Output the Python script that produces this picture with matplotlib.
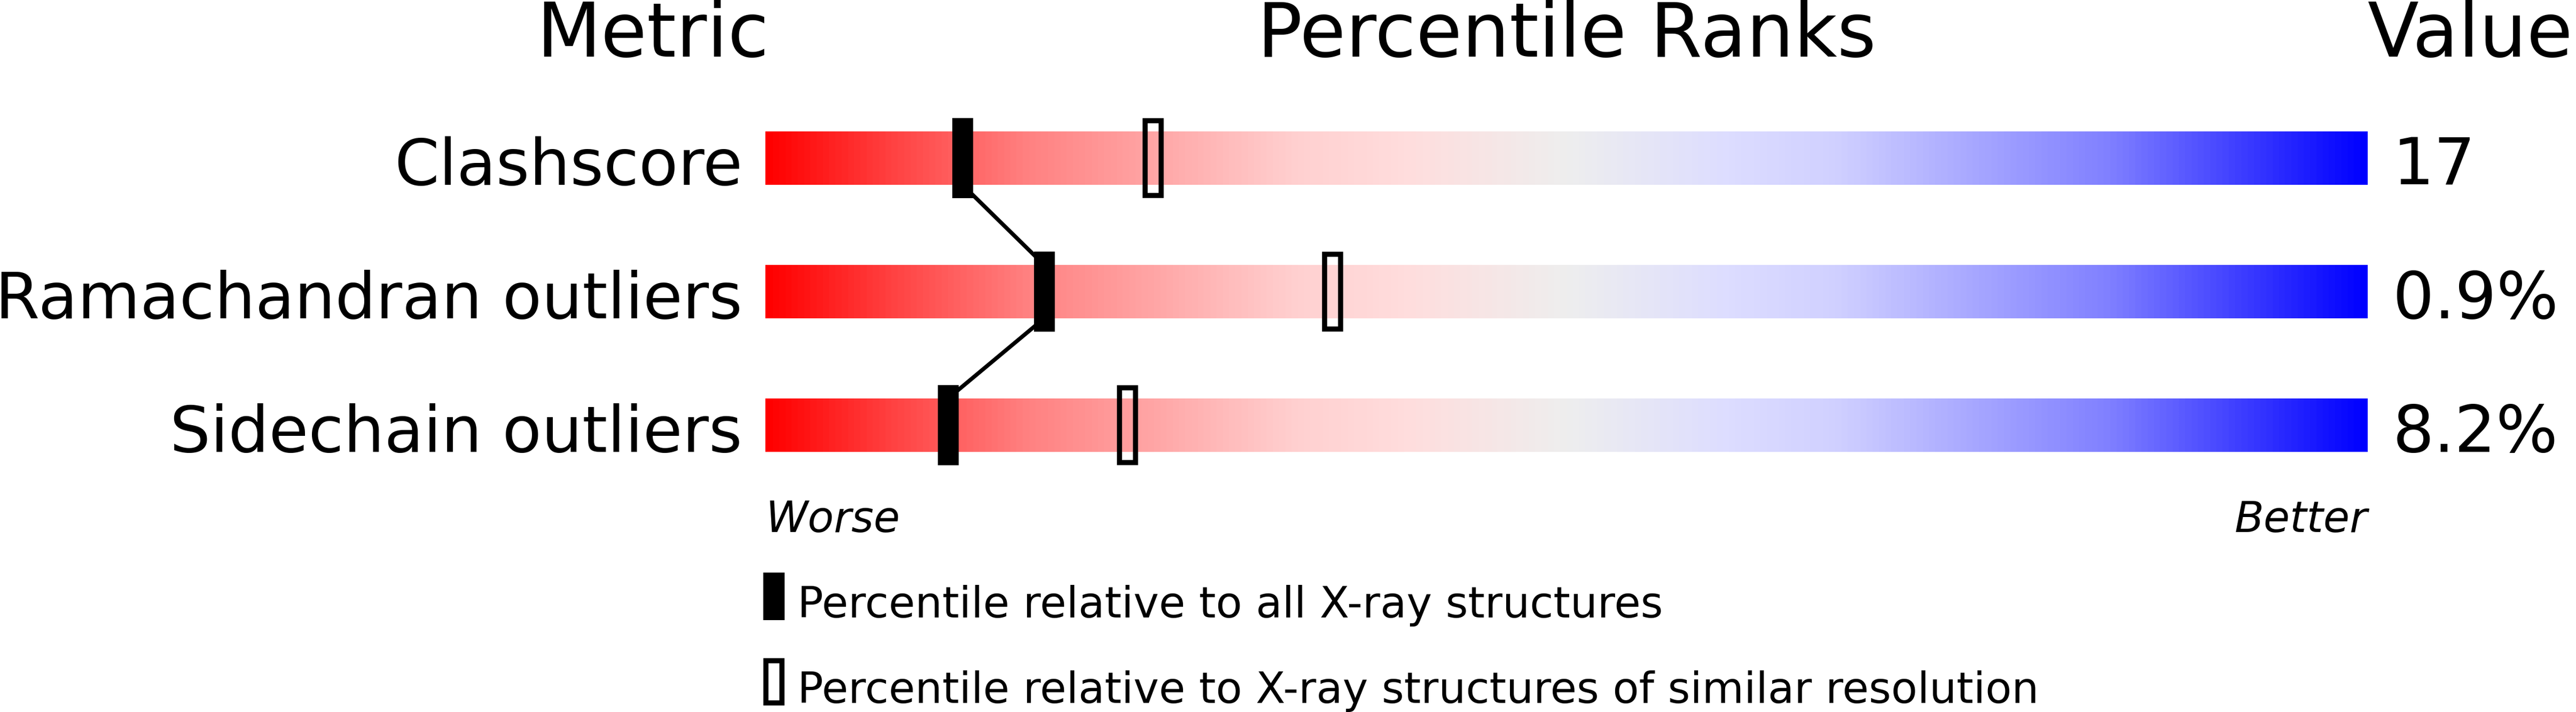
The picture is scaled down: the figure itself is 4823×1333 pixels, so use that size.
import matplotlib
matplotlib.use("Agg")
import matplotlib.pyplot as plt
import numpy as np
from matplotlib.colors import LinearSegmentedColormap
from matplotlib.patches import Rectangle

# data
metrics = ["Clashscore", "Ramachandran outliers", "Sidechain outliers"]
values = ["17", "0.9%", "8.2%"]
pct_all = [12.3, 17.4, 11.4]        # percentile vs all X-ray structures
pct_similar = [24.2, 35.4, 22.6]    # percentile vs similar resolution
legend_labels = ["Percentile relative to all X-ray structures",
                 "Percentile relative to X-ray structures of similar resolution"]

# layout in pixels (figure is drawn 1:1 in pixel units)
W, H = 4823, 1333
BAR_X0, BAR_W = 1433, 3000
ROW_Y = [296, 546, 796]
BAR_H = 100
MARK_W, MARK_H = 39, 150
EDGE = 9.5
PT = 0.72  # points per pixel at dpi=100

# red -> grey -> blue gradient of the slider
grad = LinearSegmentedColormap.from_list("slider", [
    (0.00, "#FF0000"), (0.08, "#FF4444"), (0.16, "#FF8080"),
    (0.25, "#FFAAAA"), (0.33, "#FFD0D0"), (0.40, "#FFDDDD"),
    (0.50, "#EEEEEE"), (0.60, "#DDDDFF"), (0.67, "#D0D0FF"),
    (0.75, "#AAAAFF"), (0.84, "#8080FF"), (1.00, "#0000FF")])


def to_x(p):
    return BAR_X0 + p / 100.0 * BAR_W


fig = plt.figure(figsize=(W / 100, H / 100), dpi=100)
ax = fig.add_axes([0, 0, 1, 1])

ramp = np.linspace(0, 1, 600).reshape(1, -1)
for i, yc in enumerate(ROW_Y):
    ax.imshow(ramp, cmap=grad, aspect="auto", interpolation="bilinear",
              extent=(BAR_X0, BAR_X0 + BAR_W, yc + BAR_H / 2, yc - BAR_H / 2), zorder=1)

    xa = to_x(pct_all[i])
    ax.add_patch(Rectangle((xa - MARK_W / 2, yc - MARK_H / 2), MARK_W, MARK_H,
                           facecolor="black", edgecolor="none", zorder=4))
    xs = to_x(pct_similar[i])
    ax.add_patch(Rectangle((xs - (MARK_W - EDGE) / 2, yc - (MARK_H - EDGE) / 2),
                           MARK_W - EDGE, MARK_H - EDGE, facecolor="none",
                           edgecolor="black", lw=EDGE * PT, zorder=4))

    ax.text(1390, yc + BAR_H / 2, metrics[i], ha="right", va="baseline",
            fontsize=120 * PT)
    ax.text(4480, yc + BAR_H / 2, values[i], ha="left", va="baseline",
            fontsize=122 * PT)

# connecting line between the filled markers
for i in range(len(ROW_Y) - 1):
    ax.plot([to_x(pct_all[i]), to_x(pct_all[i + 1])],
            [ROW_Y[i] + BAR_H / 2, ROW_Y[i + 1] - BAR_H / 2],
            color="black", lw=7.5 * PT, zorder=3, solid_capstyle="butt")

# headers
ax.text(1440, 106, "Metric", ha="right", va="baseline", fontsize=140 * PT)
ax.text(BAR_X0 + BAR_W / 2, 106, "Percentile Ranks", ha="center", va="baseline",
        fontsize=140 * PT)
ax.text(BAR_X0 + BAR_W, 106, "Value", ha="left", va="baseline", fontsize=140 * PT)

ax.text(BAR_X0, 996, "Worse", ha="left", va="baseline", fontsize=80 * PT, style="italic")
ax.text(BAR_X0 + BAR_W, 996, "Better", ha="right", va="baseline", fontsize=80 * PT,
        style="italic")

# legend
ax.add_patch(Rectangle((1429, 1072), 40, 89, facecolor="black", edgecolor="none"))
ax.text(1493, 1156, legend_labels[0], ha="left", va="baseline", fontsize=80.5 * PT)
ax.add_patch(Rectangle((1429 + EDGE / 2, 1232 + EDGE / 2), 40 - EDGE, 89 - EDGE,
                       facecolor="none", edgecolor="black", lw=EDGE * PT))
ax.text(1493, 1316, legend_labels[1], ha="left", va="baseline", fontsize=80.5 * PT)

ax.set_xlim(0, W)
ax.set_ylim(H, 0)
ax.axis("off")

fig.savefig("out.png", dpi=100)
